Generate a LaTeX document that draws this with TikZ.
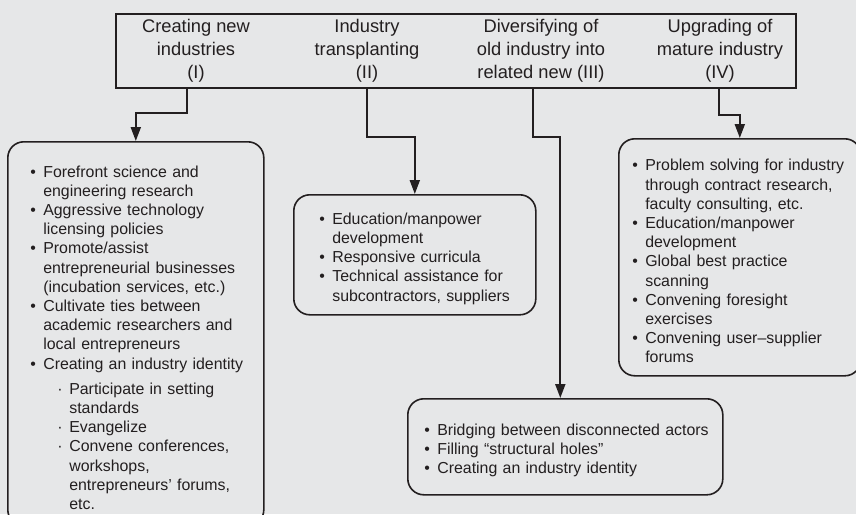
\documentclass[tikz,border=0pt]{standalone}
\usepackage{fontspec}
\setmainfont{Liberation Sans}
\usetikzlibrary{arrows.meta}
\definecolor{bgcol}{HTML}{E6E7E8}
\definecolor{ink}{HTML}{231F20}
\hyphenpenalty=10000
\exhyphenpenalty=10000

\newcommand{\itm}{\par\hangindent=13pt\hangafter=1\noindent\makebox[13pt][l]{\textbullet}}
\newcommand{\subitm}{\par\hangindent=39pt\hangafter=1\noindent\hspace*{27pt}\makebox[12pt][l]{\textperiodcentered}}

\tikzset{
  headbox/.style={draw=ink, line width=1.6pt, minimum width=680pt, minimum height=74pt, inner sep=0pt},
  headtxt/.style={align=center, text=ink, font=\fontsize{18.3}{23}\selectfont},
  actbox/.style={draw=ink, line width=1.6pt, rounded corners=16pt, anchor=north west, inner sep=0pt,
                 align=left, text=ink, font=\fontsize{15.9}{19.2}\selectfont},
  lskip/.style={execute at begin node={\leftskip=#1\relax}},
  conn/.style={draw=ink, line width=2pt, -{Triangle[length=14pt,width=10pt]}}
}

\begin{document}
\begin{tikzpicture}[x=1pt,y=-1pt]

% page and background
\useasboundingbox (0,0) rectangle (856,514);
\clip (0,0) rectangle (856,514);
\fill[bgcol] (0,0) rectangle (856,514);

% top box with the four kinds of change
\node[headbox] (top) at (456,51) {};
\node[headtxt] (hI)   at (196,51) {Creating new\\industries\\(I)};
\node[headtxt] (hII)  at (367,51) {Industry\\transplanting\\(II)};
\node[headtxt] (hIII) at (541,51) {Diversifying of\\old industry into\\related new (III)};
\node[headtxt] (hIV)  at (720,51) {Upgrading of\\mature industry\\(IV)};

% rounded boxes with the roles
\node[actbox, lskip=14.5pt, minimum width=256pt, minimum height=384pt, text width=240pt] (bI) at (7,141) {
  \itm Forefront science and\newline engineering research
  \itm Aggressive technology\newline licensing policies
  \itm Promote/assist\newline entrepreneurial businesses\newline (incubation services, etc.)
  \itm Cultivate ties between\newline academic researchers and\newline local entrepreneurs
  \itm Creating an industry identity
  \par\vspace{6pt}
  \subitm Participate in setting\newline standards
  \subitm Evangelize
  \subitm Convene conferences,\newline workshops,\newline entrepreneurs' forums,\newline etc.\par};

\node[actbox, lskip=17.5pt, minimum width=242pt, minimum height=120pt, text width=226pt] (bII) at (293,194) {
  \itm Education/manpower\newline development
  \itm Responsive curricula
  \itm Technical assistance for\newline subcontractors, suppliers\par};

\node[actbox, lskip=8.5pt, minimum width=315pt, minimum height=96pt, text width=299pt] (bIII) at (407,398) {
  \itm Bridging between disconnected actors
  \itm Filling ``structural holes''
  \itm Creating an industry identity\par};

\node[actbox, lskip=5.5pt, minimum width=242pt, minimum height=237pt, text width=226pt] (bIV) at (618,138) {
  \itm Problem solving for industry\newline through contract research,\newline faculty consulting, etc.
  \itm Education/manpower\newline development
  \itm Global best practice\newline scanning
  \itm Convening foresight\newline exercises
  \itm Convening user--supplier\newline forums\par};

% connectors
\draw[conn] ([xshift=72pt]top.south west) -- ++(0,24) -| (bI.north);
\draw[conn] ([xshift=252pt]top.south west) -- ++(0,48) -| (bII.north);
\draw[conn] ([xshift=418pt]top.south west) -- ++(0,48) -| ([xshift=-5pt]bIII.north);
\draw[conn] ([xshift=604pt]top.south west) -- ++(0,26) -| (bIV.north);

\end{tikzpicture}
\end{document}
